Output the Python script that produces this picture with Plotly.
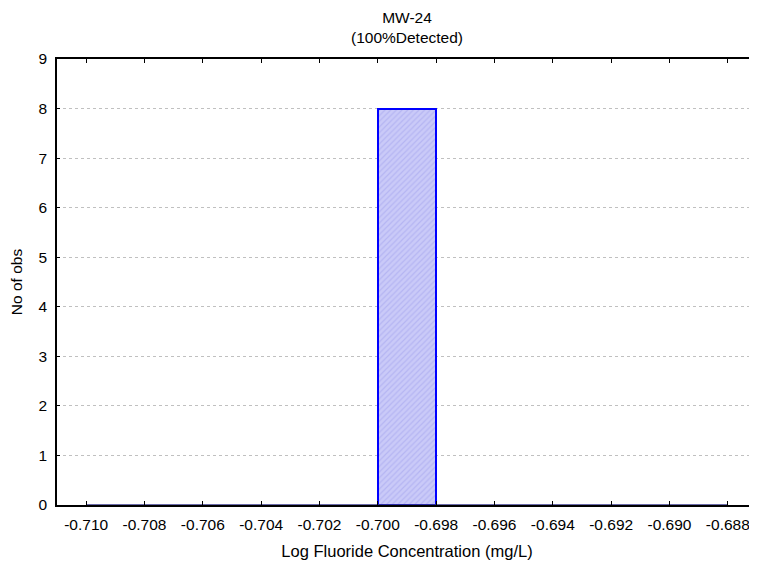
import plotly.graph_objects as go

# Histogram bins (left edges) and counts
bin_left = [-0.710, -0.708, -0.706, -0.704, -0.702, -0.700, -0.698, -0.696, -0.694, -0.692, -0.690]
bin_width = 0.002
counts = [0, 0, 0, 0, 0, 8, 0, 0, 0, 0, 0]
x_ticks = [-0.710, -0.708, -0.706, -0.704, -0.702, -0.700, -0.698, -0.696, -0.694, -0.692, -0.690, -0.688]
y_ticks = [0, 1, 2, 3, 4, 5, 6, 7, 8, 9]
title_lines = ["MW-24", "(100%Detected)"]

centers = [b + bin_width / 2 for b in bin_left]
nz_x = [c for c, v in zip(centers, counts) if v > 0]
nz_y = [v for v in counts if v > 0]

fig = go.Figure()
# baseline for empty bins
fig.add_trace(go.Scatter(
    x=[bin_left[0], bin_left[-1] + bin_width], y=[0, 0], mode="lines",
    line=dict(color="#3a3a8c", width=1.5), hoverinfo="skip", showlegend=False,
))
fig.add_trace(go.Bar(
    x=nz_x, y=nz_y, width=bin_width,
    marker=dict(color="#cacaf8", line=dict(color="#0000ff", width=2),
                pattern=dict(shape="/", fgcolor="#a0a0ec", size=4, solidity=0.3)),
    showlegend=False,
))

FONT = "Liberation Sans, Arial, sans-serif"
fig.update_layout(
    width=757, height=565,
    margin=dict(l=49, r=8, t=51, b=68, autoexpand=False),
    paper_bgcolor="white", plot_bgcolor="white",
    font=dict(family=FONT, size=15.5, color="black"),
    bargap=0,
)
fig.add_annotation(
    text="<br>".join(title_lines), xref="paper", yref="paper", x=0.5, y=1,
    xanchor="center", yanchor="bottom", yshift=11, showarrow=False,
    font=dict(size=15.5), align="center",
)
fig.update_xaxes(
    range=[-0.711, -0.687], tickvals=x_ticks, ticktext=[f"{t:.3f}" for t in x_ticks],
    ticks="inside", ticklen=4, tickcolor="black", showline=True, linecolor="black", linewidth=1.5,
    mirror="ticks", showgrid=False, zeroline=False, automargin=False,
    tickfont=dict(size=15.5), ticklabelstandoff=5,
    title=dict(text="Log Fluoride Concentration (mg/L)", standoff=13, font=dict(size=16.5)),
)
fig.update_yaxes(
    range=[0, 9], tickvals=y_ticks, ticks="inside", ticklen=3, tickcolor="black",
    showline=True, linecolor="black", linewidth=1.5, mirror="ticks", automargin=False,
    showgrid=True, gridcolor="#c0c0c0", griddash="dot", gridwidth=1, zeroline=False,
    tickfont=dict(size=15.5), ticklabelstandoff=5,
    title=dict(text="No of obs", standoff=12, font=dict(size=15.5)),
)

fig.write_html("out.html")
